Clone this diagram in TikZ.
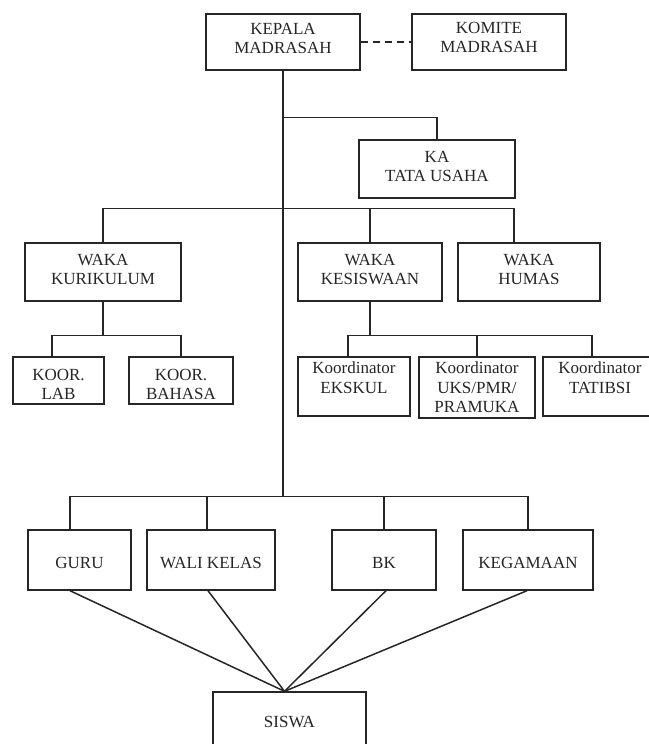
\documentclass[tikz,border=0pt]{standalone}
\usepackage{fontspec}
\setmainfont{Liberation Serif}
\usepackage{tikz}

\tikzset{
  box/.style={draw, line width=1.4pt, inner sep=0pt, align=center,
              font=\fontsize{17}{19.5}\selectfont},
  row/.style={box, minimum height=60pt, text height=17pt},
  txt/.style={anchor=north, inner sep=0pt, align=center,
              font=\fontsize{17}{19.5}\selectfont, yshift=-#1},
  txt/.default=11.5pt,
  link/.style={line width=1.5pt},
}

\begin{document}
\begin{tikzpicture}[x=1pt, y=-1pt, black!85]
   \path[use as bounding box, fill=white] (0,0) rectangle (648,744);
   % top level
   \node[box, minimum width=154pt, minimum height=56pt,
         label={[txt=9.5pt]north:KEPALA\\MADRASAH}] (kepala) at (283,42) {};
   \node[box, minimum width=154pt, minimum height=56pt,
         label={[txt=8.5pt]north:KOMITE\\MADRASAH}] (komite) at (489,42) {};
   \node[box, minimum width=156pt, minimum height=58pt,
         label={[txt]north:KA\\TATA USAHA}] (ka) at (437,169) {};
   % waka
   \node[box, minimum width=156pt, minimum height=58pt,
         label={[txt]north:WAKA\\KURIKULUM}] (kurikulum) at (103,272) {};
   \node[box, minimum width=144pt, minimum height=58pt,
         label={[txt]north:WAKA\\KESISWAAN}] (kesiswaan) at (370,272) {};
   \node[box, minimum width=142pt, minimum height=58pt,
         label={[txt]north:WAKA\\HUMAS}] (humas) at (529,272) {};
   % koordinator
   \node[box, minimum width=91pt, minimum height=47pt,
         label={[txt=12.5pt]north:KOOR.\\LAB}] (lab) at (58.5,380.5) {};
   \node[box, minimum width=104pt, minimum height=47pt,
         label={[txt=12.5pt]north:KOOR.\\BAHASA}] (bahasa) at (181,380.5) {};
   \node[box, minimum width=112pt, minimum height=59pt,
         label={[txt=5.5pt]north:Koordinator\\EKSKUL}] (ekskul) at (354,386.5) {};
   \node[box, minimum width=116pt, minimum height=61pt,
         label={[txt=5.5pt]north:Koordinator\\UKS/PMR/\\PRAMUKA}] (uks) at (477,387.5) {};
   \node[box, minimum width=150pt, minimum height=59pt,
         label={[txt=5.5pt, xshift=-18pt]north:Koordinator\\TATIBSI}] (tatibsi) at (618,386.5) {};
   % bottom row
   \node[row, minimum width=103pt] (guru) at (79.5,560) {GURU};
   \node[row, minimum width=128pt] (wali) at (211,560) {WALI KELAS};
   \node[row, minimum width=104pt] (bk) at (384,560) {BK};
   \node[row, minimum width=130pt] (kegamaan) at (528,560) {KEGAMAAN};
   \node[box, minimum width=153pt, minimum height=60pt] (siswa) at (289.5,722) {SISWA};

   \draw[link, dash pattern=on 7pt off 5pt] (kepala.east) -- (komite.west);
   \draw[link] (kepala.south) -- ++(0,426) coordinate (trunkend);
   \draw[link] (kepala.south) ++(0,47) -| (ka.north);
   \draw[link] (kurikulum.north) -- ++(0,-34) -| ([xshift=-15pt]humas.north);
   \draw[link] (kesiswaan.north) -- ++(0,-34);

   \draw[link] (kurikulum.south) -- ++(0,34) coordinate (kursplit);
   \draw[link] ([xshift=-6.5pt]lab.north) |- (kursplit) -| (bahasa.north);
   \draw[link] (kesiswaan.south) -- ++(0,34) coordinate (kessplit);
   \draw[link] ([xshift=-6pt]ekskul.north) |- (kessplit) -| ([xshift=-26pt]tatibsi.north);
   \draw[link] (uks.north) -- (uks.north |- kessplit);

   \draw[link] ([xshift=-9.5pt]guru.north) |- (trunkend) -| (kegamaan.north);
   \draw[link] ([xshift=-4pt]wali.north) -- ([xshift=-4pt]wali.north |- trunkend);
   \draw[link] (bk.north) -- (bk.north |- trunkend);

   \foreach \n/\dx in {guru/-9.5, wali/-3, bk/2, kegamaan/-1}
     \draw[link] ([xshift=\dx pt]\n.south) -- ([xshift=-5pt]siswa.north);
\end{tikzpicture}
\end{document}
